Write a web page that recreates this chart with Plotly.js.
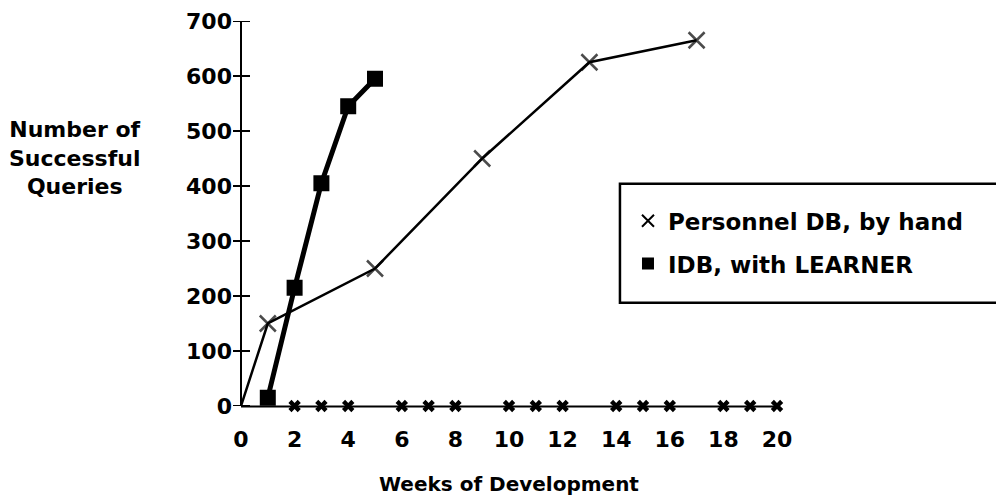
<!DOCTYPE html>
<html>
<head>
<meta charset="utf-8">
<script src="https://cdn.plot.ly/plotly-3.0.1.min.js"></script>
<style>html,body{margin:0;padding:0;background:#fff;}#chart{width:996px;height:502px;}</style>
</head>
<body>
<div id="chart"></div>
<script>
// Data
const handWeeks = [0, 1, 5, 9, 13, 17];
const handQueries = [0, 150, 250, 450, 625, 665];
const learnerWeeks = [1, 2, 3, 4, 5];
const learnerQueries = [15, 215, 405, 545, 595];
const axisCrossWeeks = [2, 3, 4, 6, 7, 8, 10, 11, 12, 14, 15, 16, 18, 19, 20];
const axisCrossValues = axisCrossWeeks.map(() => 0);
const xTicks = [0, 2, 4, 6, 8, 10, 12, 14, 16, 18, 20];
const yTicks = [0, 100, 200, 300, 400, 500, 600, 700];
const seriesNames = ["Personnel DB, by hand", "IDB, with LEARNER"];

const FONT = "DejaVu Sans";
const PLOT_W = 536;
const xMin = xTicks[0], xMax = xTicks[xTicks.length - 1];

const traces = [
  {
    x: axisCrossWeeks, y: axisCrossValues, mode: "markers", showlegend: false, hoverinfo: "skip",
    marker: {symbol: "x", size: 11, color: "#000", line: {width: 0}}, cliponaxis: false
  },
  {
    x: handWeeks, y: handQueries, name: seriesNames[0], mode: "lines+markers", showlegend: false,
    line: {color: "#000", width: 2.5},
    marker: {symbol: "x-thin", size: handWeeks.map(w => w === 0 ? 0 : 16), color: "#000", line: {width: 2.5, color: "#000"}},
    cliponaxis: false
  },
  {
    x: learnerWeeks, y: learnerQueries, name: seriesNames[1], mode: "lines+markers", showlegend: false,
    line: {color: "#000", width: 5},
    marker: {symbol: "square", size: 16, color: "#000"},
    cliponaxis: false
  },
  {
    x: [null], y: [null], name: seriesNames[0], mode: "markers", legendgroup: "a",
    marker: {symbol: "x-thin", size: 12, color: "#000", line: {width: 2, color: "#000"}}
  },
  {
    x: [null], y: [null], name: seriesNames[1], mode: "markers", legendgroup: "b",
    marker: {symbol: "square", size: 12, color: "#000"}
  }
];

// axis lines and crossing y tick marks, built from the tick arrays
const axisShapes = [
  {type: "line", xref: "paper", yref: "paper", x0: 0, x1: 0, y0: 0, y1: 1, line: {color: "#000", width: 2}},
  {type: "rect", xref: "paper", yref: "paper", x0: 0, x1: 1, y0: -0.004, y1: 0.001,
   line: {width: 0}, fillcolor: "#000", layer: "above"}
].concat(yTicks.map(v => ({
  type: "line", xref: "paper", yref: "y", x0: -8 / PLOT_W, x1: 9 / PLOT_W, y0: v, y1: v,
  line: {color: "#000", width: 2}
})));

const layout = {
  width: 996, height: 502,
  margin: {l: 241, r: 219, t: 21, b: 96},
  paper_bgcolor: "#fff", plot_bgcolor: "#fff",
  font: {family: FONT, size: 22, color: "#000", weight: "bold"},
  showlegend: true,
  legend: {
    x: 0.722, y: 0.537, xanchor: "left", yanchor: "top",
    bgcolor: "rgba(0,0,0,0)", borderwidth: 0,
    font: {family: FONT, size: 23, color: "#000"},
    tracegroupgap: 10, traceorder: "grouped"
  },
  xaxis: {
    range: [xMin, xMax], tickvals: xTicks, ticktext: xTicks.map(String),
    showgrid: false, zeroline: false, showline: false,
    ticks: "", ticklabelstandoff: 18, tickfont: {size: 22}
  },
  yaxis: {
    range: [0, 700], tickvals: yTicks, ticktext: yTicks.map(String),
    showgrid: false, zeroline: false, showline: false,
    ticks: "", ticklabelstandoff: 8, tickfont: {size: 22}
  },
  shapes: axisShapes.concat([
    {type: "rect", xref: "paper", yref: "paper", x0: 0.707, x1: 1.6, y0: 0.268, y1: 0.577,
     line: {color: "#000", width: 2.5}, fillcolor: "rgba(0,0,0,0)", layer: "above"}
  ]),
  annotations: [
    {text: "Number of<br>Successful<br>Queries", xref: "paper", yref: "paper", x: -0.31, y: 0.644,
     xanchor: "center", yanchor: "middle", showarrow: false, align: "center",
     font: {size: 22}},
    {text: "Weeks of Development", xref: "paper", yref: "paper", x: 0.5, y: -0.203,
     xanchor: "center", yanchor: "middle", showarrow: false,
     font: {size: 20}}
  ]
};

Plotly.newPlot("chart", traces, layout, {displayModeBar: false, staticPlot: true});
</script>
</body>
</html>
